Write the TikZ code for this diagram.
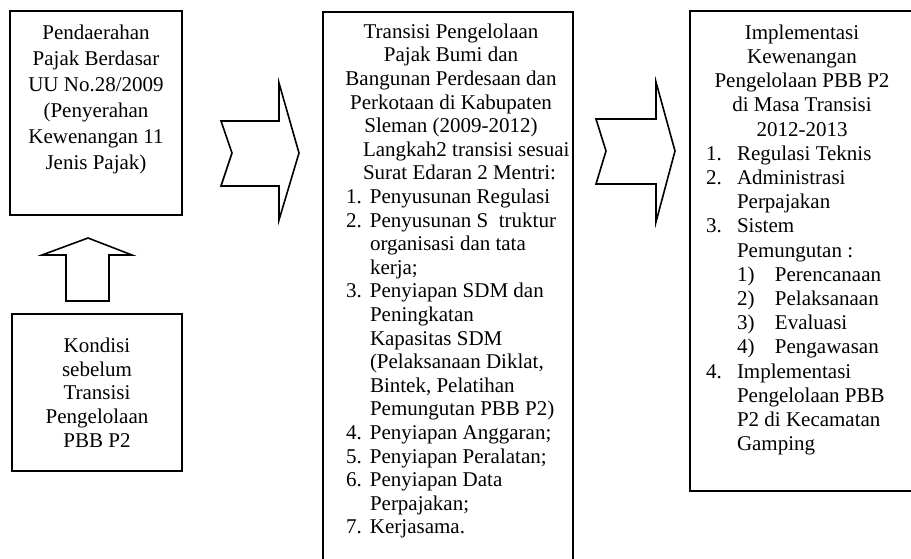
\documentclass[tikz,border=0pt]{standalone}
\usepackage{fontspec}
\setmainfont{Liberation Serif}
\newcommand{\lab}[2]{\makebox[#1][l]{#2}}
\begin{document}
\begin{tikzpicture}[x=1pt,y=-1pt,
  box/.style={draw, line width=2pt, inner sep=0pt, outer sep=0pt, anchor=north west},
  blockarrow/.style={draw, line width=1.6pt, line join=miter},
  txt/.style={inner sep=0pt, outer sep=0pt},
  ctitle/.style={txt, align=center, anchor=north},
  ltext/.style={txt, align=left, anchor=north west},
]
\useasboundingbox (0,0) rectangle (911,559);

% boxes
\node[box, minimum width=172pt, minimum height=204pt] (b1) at (10,11) {};
\node[box, minimum width=170pt, minimum height=157pt] (b2) at (12,314) {};
\node[box, minimum width=250pt, minimum height=560pt] (b3) at (323,12) {};
\node[box, minimum width=226pt, minimum height=480pt] (b4) at (690,11) {};

% texts
\node[ctitle, font=\fontsize{21}{26}\selectfont] (t1) at (96,24.7) {Pendaerahan\\Pajak Berdasar\\UU No.28/2009\\(Penyerahan\\Kewenangan 11\\Jenis Pajak)};
\node[ctitle, font=\fontsize{21}{23.8}\selectfont] (t2) at (97,337.7) {Kondisi\\sebelum\\Transisi\\Pengelolaan\\PBB P2};
\node[ctitle, font=\fontsize{21}{23.6}\selectfont] (t3) at (451,23.7) {Transisi Pengelolaan\\Pajak Bumi dan\\Bangunan Perdesaan dan\\Perkotaan di Kabupaten\\Sleman (2009-2012)};
\node[ltext, font=\fontsize{21}{23.6}\selectfont] (l3) at (346,141.7) {%
\hspace*{17pt}Langkah2 transisi sesuai\\
\hspace*{17pt}Surat Edaran 2 Mentri:\\
\lab{24pt}{1.}Penyusunan Regulasi\\
\lab{24pt}{2.}Penyusunan S~~truktur\\
\hspace*{24pt}organisasi dan tata\\
\hspace*{24pt}kerja;\\
\lab{24pt}{3.}Penyiapan SDM dan\\
\hspace*{24pt}Peningkatan\\
\hspace*{24pt}Kapasitas SDM\\
\hspace*{24pt}(Pelaksanaan Diklat,\\
\hspace*{24pt}Bintek, Pelatihan\\
\hspace*{24pt}Pemungutan PBB P2)\\
\lab{24pt}{4.}Penyiapan Anggaran;\\
\lab{24pt}{5.}Penyiapan Peralatan;\\
\lab{24pt}{6.}Penyiapan Data\\
\hspace*{24pt}Perpajakan;\\
\lab{24pt}{7.}Kerjasama.};
\node[ctitle, font=\fontsize{21}{24.2}\selectfont] (t4) at (802,24.7) {Implementasi\\Kewenangan\\Pengelolaan PBB P2\\di Masa Transisi\\2012-2013};
\node[ltext, font=\fontsize{21}{24.2}\selectfont] (l4) at (706,145.7) {%
\lab{31pt}{1.}Regulasi Teknis\\
\lab{31pt}{2.}Administrasi\\
\hspace*{31pt}Perpajakan\\
\lab{31pt}{3.}Sistem\\
\hspace*{31pt}Pemungutan :\\
\hspace*{31pt}\lab{38pt}{1)}Perencanaan\\
\hspace*{31pt}\lab{38pt}{2)}Pelaksanaan\\
\hspace*{31pt}\lab{38pt}{3)}Evaluasi\\
\hspace*{31pt}\lab{38pt}{4)}Pengawasan\\
\lab{31pt}{4.}Implementasi\\
\hspace*{31pt}Pengelolaan PBB\\
\hspace*{31pt}P2 di Kecamatan\\
\hspace*{31pt}Gamping};

% block arrows
\draw[blockarrow] (88,238) -- (132,255) -- (109,255) -- (109,301) -- (66,301) -- (66,255) -- (42,255) -- cycle;
\draw[blockarrow] (221,121) -- (279,121) -- (279,83) -- (299,153) -- (279,220) -- (279,186) -- (221,186) -- (232,153) -- cycle;
\draw[blockarrow] (596,119) -- (656,119) -- (656,82) -- (675,151) -- (656,222) -- (656,184) -- (596,184) -- (606,151) -- cycle;
\end{tikzpicture}
\end{document}
